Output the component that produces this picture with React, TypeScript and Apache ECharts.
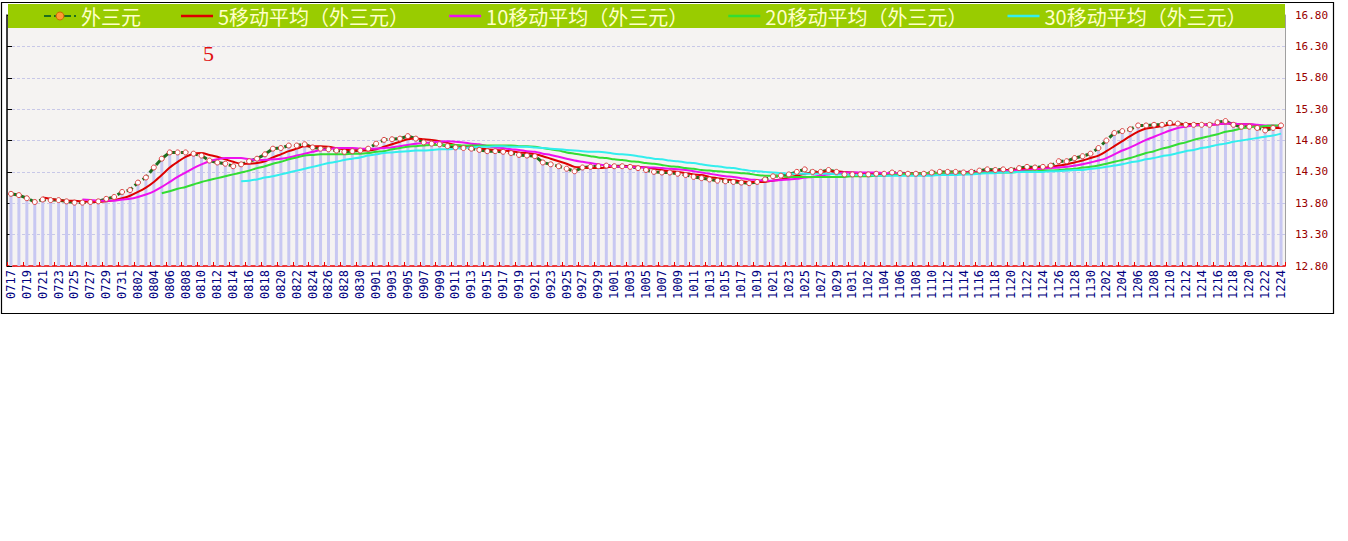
import React, { useEffect, useRef } from "react";
import * as echarts from "echarts";

const dates = [
  "0717","0718","0719","0720","0721","0722","0723","0724","0725","0726","0727","0728","0729","0730","0731",
  "0801","0802","0803","0804","0805","0806","0807","0808","0809","0810","0811","0812","0813","0814","0815","0816","0817","0818","0819","0820","0821","0822","0823","0824","0825","0826","0827","0828","0829","0830","0831",
  "0901","0902","0903","0904","0905","0906","0907","0908","0909","0910","0911","0912","0913","0914","0915","0916","0917","0918","0919","0920","0921","0922","0923","0924","0925","0926","0927","0928","0929","0930",
  "1001","1002","1003","1004","1005","1006","1007","1008","1009","1010","1011","1012","1013","1014","1015","1016","1017","1018","1019","1020","1021","1022","1023","1024","1025","1026","1027","1028","1029","1030","1031",
  "1101","1102","1103","1104","1105","1106","1107","1108","1109","1110","1111","1112","1113","1114","1115","1116","1117","1118","1119","1120","1121","1122","1123","1124","1125","1126","1127","1128","1129","1130",
  "1201","1202","1203","1204","1205","1206","1207","1208","1209","1210","1211","1212","1213","1214","1215","1216","1217","1218","1219","1220","1221","1222","1223","1224"
];

const price = [
  13.95,13.93,13.88,13.82,13.86,13.85,13.85,13.83,13.81,13.81,
  13.82,13.83,13.87,13.90,13.98,14.01,14.13,14.21,14.37,14.51,
  14.61,14.61,14.61,14.59,14.56,14.48,14.45,14.43,14.39,14.42,
  14.47,14.51,14.58,14.67,14.68,14.72,14.72,14.74,14.69,14.67,
  14.66,14.64,14.62,14.63,14.64,14.67,14.75,14.81,14.82,14.83,
  14.87,14.83,14.77,14.75,14.74,14.71,14.69,14.68,14.67,14.65,
  14.63,14.63,14.62,14.60,14.57,14.56,14.55,14.45,14.42,14.39,
  14.35,14.31,14.37,14.38,14.39,14.40,14.39,14.39,14.38,14.36,
  14.33,14.30,14.29,14.29,14.27,14.25,14.22,14.20,14.18,14.16,
  14.15,14.14,14.13,14.12,14.14,14.18,14.23,14.24,14.26,14.30,
  14.34,14.30,14.30,14.33,14.30,14.26,14.26,14.26,14.26,14.27,
  14.27,14.29,14.28,14.27,14.27,14.27,14.29,14.30,14.30,14.30,
  14.29,14.30,14.32,14.34,14.33,14.34,14.33,14.36,14.38,14.37,
  14.38,14.40,14.47,14.47,14.52,14.55,14.59,14.68,14.80,14.92,
  14.95,14.98,15.04,15.04,15.05,15.05,15.08,15.07,15.05,15.05,
  15.05,15.05,15.09,15.11,15.05,15.02,15.02,15.00,14.96,15.00,
  15.04
];

const ma5 = [
  null,null,null,null,
  13.89,13.87,13.85,13.84,13.84,13.83,13.82,13.82,13.83,13.85,13.88,
  13.92,13.98,14.05,14.14,14.25,
  14.37,14.46,14.54,14.59,14.60,
  14.57,14.54,14.50,14.46,14.43,
  14.43,14.44,14.47,14.53,14.58,
  14.63,14.67,14.71,14.71,14.71,
  14.70,14.68,14.66,14.64,14.64,
  14.64,14.66,14.70,14.74,14.78,
  14.82,14.83,14.82,14.81,14.79,
  14.76,14.73,14.71,14.70,14.68,
  14.66,14.65,14.64,14.63,14.61,
  14.60,14.58,14.55,14.51,14.47,
  14.43,14.38,14.37,14.36,14.36,
  14.37,14.39,14.39,14.39,14.38,
  14.37,14.35,14.33,14.31,14.30,
  14.28,14.26,14.25,14.22,14.20,
  14.18,14.17,14.15,14.14,14.14,
  14.14,14.16,14.18,14.21,14.24,
  14.27,14.29,14.30,14.31,14.31,
  14.30,14.29,14.28,14.27,14.26,
  14.26,14.27,14.27,14.28,14.28,
  14.28,14.28,14.28,14.29,14.29,
  14.30,14.30,14.30,14.31,14.32,
  14.33,14.33,14.34,14.35,14.36,
  14.36,14.38,14.40,14.42,14.45,
  14.48,14.52,14.56,14.63,14.71,
  14.79,14.87,14.94,14.99,15.01,
  15.03,15.05,15.06,15.06,15.06,
  15.06,15.05,15.06,15.07,15.07,
  15.06,15.06,15.04,15.01,15.00,
  15.00
];

const ma10 = [
  null,null,null,null,null,null,null,null,null,
  13.86,13.85,13.84,13.84,13.84,13.86,
  13.87,13.90,13.94,13.99,14.06,
  14.14,14.22,14.29,14.36,14.42,
  14.47,14.50,14.52,14.52,14.52,
  14.50,14.49,14.49,14.50,14.51,
  14.53,14.56,14.59,14.62,14.65,
  14.66,14.68,14.68,14.68,14.67,
  14.67,14.67,14.68,14.69,14.71,
  14.73,14.75,14.76,14.77,14.78,
  14.79,14.78,14.77,14.75,14.74,
  14.71,14.69,14.68,14.66,14.65,
  14.63,14.62,14.59,14.57,14.54,
  14.51,14.48,14.46,14.44,14.42,
  14.40,14.39,14.38,14.38,14.37,
  14.37,14.37,14.36,14.35,14.34,
  14.33,14.31,14.29,14.27,14.25,
  14.23,14.22,14.20,14.18,14.17,
  14.16,14.16,14.17,14.18,14.19,
  14.21,14.22,14.24,14.26,14.28,
  14.29,14.29,14.29,14.29,14.29,
  14.28,14.28,14.28,14.27,14.27,
  14.27,14.27,14.28,14.28,14.28,
  14.29,14.29,14.29,14.30,14.30,
  14.31,14.32,14.32,14.33,14.34,
  14.35,14.36,14.37,14.38,14.40,
  14.42,14.45,14.48,14.52,14.58,
  14.64,14.69,14.75,14.81,14.86,
  14.91,14.96,15.00,15.02,15.04,
  15.05,15.05,15.06,15.07,15.07,
  15.06,15.06,15.05,15.04,15.04,
  15.03
];

const ma20 = [
  null,null,null,null,null,null,null,null,null,null,
  null,null,null,null,null,null,null,null,null,
  13.96,13.99,14.03,14.06,14.10,14.14,
  14.17,14.20,14.23,14.26,14.29,
  14.32,14.36,14.39,14.43,14.46,
  14.50,14.53,14.56,14.57,14.58,
  14.58,14.58,14.58,14.59,14.59,
  14.60,14.62,14.63,14.66,14.68,
  14.70,14.71,14.72,14.73,14.73,
  14.73,14.73,14.72,14.72,14.72,
  14.72,14.72,14.72,14.72,14.71,
  14.71,14.70,14.68,14.66,14.64,
  14.61,14.59,14.57,14.55,14.53,
  14.52,14.50,14.49,14.47,14.46,
  14.44,14.43,14.41,14.39,14.38,
  14.36,14.35,14.33,14.32,14.31,
  14.30,14.29,14.28,14.27,14.25,
  14.24,14.24,14.23,14.22,14.22,
  14.22,14.22,14.22,14.22,14.22,
  14.22,14.23,14.23,14.23,14.24,
  14.24,14.25,14.26,14.27,14.27,
  14.28,14.28,14.28,14.29,14.29,
  14.28,14.28,14.28,14.29,14.29,
  14.29,14.29,14.30,14.31,14.31,
  14.32,14.32,14.33,14.34,14.35,
  14.37,14.38,14.40,14.43,14.46,
  14.49,14.52,14.56,14.60,14.63,
  14.67,14.70,14.74,14.77,14.81,
  14.84,14.87,14.90,14.94,14.96,
  14.99,15.01,15.02,15.03,15.04,
  15.04
];

const ma30 = [
  null,null,null,null,null,null,null,null,null,null,
  null,null,null,null,null,null,null,null,null,null,
  null,null,null,null,null,null,null,null,null,
  14.15,
  14.16,14.18,14.21,14.23,14.26,
  14.29,14.32,14.35,14.38,14.41,
  14.44,14.46,14.49,14.51,14.53,
  14.56,14.58,14.60,14.61,14.62,
  14.63,14.64,14.64,14.65,14.66,
  14.66,14.67,14.68,14.69,14.70,
  14.70,14.71,14.71,14.70,14.70,
  14.70,14.69,14.68,14.67,14.66,
  14.65,14.64,14.63,14.62,14.62,
  14.61,14.59,14.58,14.57,14.55,
  14.53,14.51,14.50,14.48,14.47,
  14.45,14.44,14.42,14.40,14.39,
  14.37,14.36,14.34,14.32,14.31,
  14.30,14.29,14.28,14.27,14.27,
  14.27,14.27,14.27,14.27,14.26,
  14.26,14.25,14.25,14.25,14.24,
  14.24,14.24,14.24,14.24,14.24,
  14.24,14.24,14.25,14.25,14.25,
  14.26,14.26,14.27,14.28,14.28,
  14.29,14.29,14.30,14.30,14.30,
  14.30,14.31,14.31,14.32,14.33,
  14.33,14.35,14.36,14.38,14.40,
  14.42,14.45,14.47,14.50,14.52,
  14.55,14.57,14.60,14.63,14.65,
  14.68,14.70,14.73,14.75,14.78,
  14.80,14.82,14.84,14.86,14.88,
  14.91
];

const seriesNames = ["外三元", "5移动平均（外三元）", "10移动平均（外三元）", "20移动平均（外三元）", "30移动平均（外三元）"];
const yTicksMin = 12.8;
const yTicksMax = 16.8;
const yTickStep = 0.5;

const lineIcon = "path://M0,0 L32,0 L32,2.5 L0,2.5 Z";

export default function App() {
  const ref = useRef<HTMLDivElement>(null);
  useEffect(() => {
    const chart = echarts.init(ref.current!, null, { renderer: "svg" });
    const maLine = (name: string, data: (number | null)[], color: string) => ({
      name,
      type: "line",
      data,
      symbol: "none",
      smooth: 0.3,
      connectNulls: false,
      lineStyle: { color, width: 2 },
      itemStyle: { color },
      z: 3,
    });
    chart.setOption({
      animation: false,
      backgroundColor: "#ffffff",
      grid: {
        left: 7,
        right: 63,
        top: 15,
        bottom: 275,
        show: true,
        backgroundColor: "#f5f3f2",
        borderWidth: 0,
      },
      legend: {
        data: [
          { name: seriesNames[0], itemStyle: { color: "#ff9933", borderColor: "#cc6600", borderWidth: 1 } },
          { name: seriesNames[1], icon: lineIcon },
          { name: seriesNames[2], icon: lineIcon },
          { name: seriesNames[3], icon: lineIcon },
          { name: seriesNames[4], icon: lineIcon },
        ],
        left: 43,
        top: 6,
        padding: 0,
        itemGap: 40,
        itemWidth: 32,
        itemHeight: 10,
        symbolKeepAspect: true,
        textStyle: {
          color: "#ffffc8",
          fontSize: 20,
          lineHeight: 20,
          fontFamily: "Noto Sans CJK SC",
        },
        z: 6,
      },
      xAxis: {
        type: "category",
        data: dates,
        boundaryGap: true,
        axisLine: { show: true, lineStyle: { color: "#ee0000", width: 1.5 } },
        axisTick: { show: true, inside: true, length: 4, interval: 1, lineStyle: { color: "#ee0000" } },
        axisLabel: {
          interval: 1,
          rotate: 90,
          margin: 4,
          color: "#000080",
          fontSize: 12,
          fontFamily: "DejaVu Sans Mono",
        },
        splitLine: { show: false },
      },
      yAxis: [
        {
          type: "value",
          position: "right",
          min: yTicksMin,
          max: yTicksMax,
          interval: yTickStep,
          axisLine: { show: true, lineStyle: { color: "#a0a0a0", width: 1 } },
          axisTick: { show: false },
          axisLabel: {
            color: "#990000",
            fontSize: 11,
            fontFamily: "DejaVu Sans Mono",
            margin: 10,
            formatter: (v: number) => v.toFixed(2),
          },
          splitLine: { show: true, lineStyle: { color: "#c8c8e8", type: [3, 2], width: 1 } },
        },
        {
          type: "value",
          position: "left",
          min: yTicksMin,
          max: yTicksMax,
          interval: yTickStep,
          axisLine: { show: true, lineStyle: { color: "#000000", width: 1.5 } },
          axisTick: { show: true, inside: true, length: 5, lineStyle: { color: "#000000" } },
          axisLabel: { show: false },
          splitLine: { show: false },
        },
      ],
      series: [
        {
          name: "bars",
          type: "bar",
          data: price,
          barWidth: 3,
          itemStyle: { color: "#c8c8f2" },
          z: 2,
        },
        {
          name: seriesNames[0],
          type: "line",
          data: price,
          symbol: "circle",
          symbolSize: 5,
          lineStyle: { color: "#1e6e1e", width: 3, type: [7, 3] },
          itemStyle: { color: "#ffffff", borderColor: "#dd4444", borderWidth: 1 },
          z: 3,
        },
        maLine(seriesNames[1], ma5, "#dd0000"),
        maLine(seriesNames[2], ma10, "#ee11ee"),
        maLine(seriesNames[3], ma20, "#33dd33"),
        maLine(seriesNames[4], ma30, "#33eeee"),
      ],
      graphic: [
        {
          type: "rect",
          shape: { x: 8, y: 4, width: 1277, height: 24 },
          style: { fill: "#99cc00" },
          z: 1,
        },
        {
          type: "text",
          x: 203,
          y: 42,
          style: { text: "5", fill: "#e01010", font: '22px "Liberation Serif"' },
          z: 5,
        },
        {
          type: "rect",
          shape: { x: 1.5, y: 2.5, width: 1332, height: 311 },
          style: { fill: "none", stroke: "#000000", lineWidth: 1.2 },
          z: 10,
        },
      ],
    });
    return () => chart.dispose();
  }, []);
  return (
    <div
      ref={ref}
      style={{ position: "absolute", left: 0, top: 0, width: 1348, height: 541, background: "#ffffff" }}
    />
  );
}
